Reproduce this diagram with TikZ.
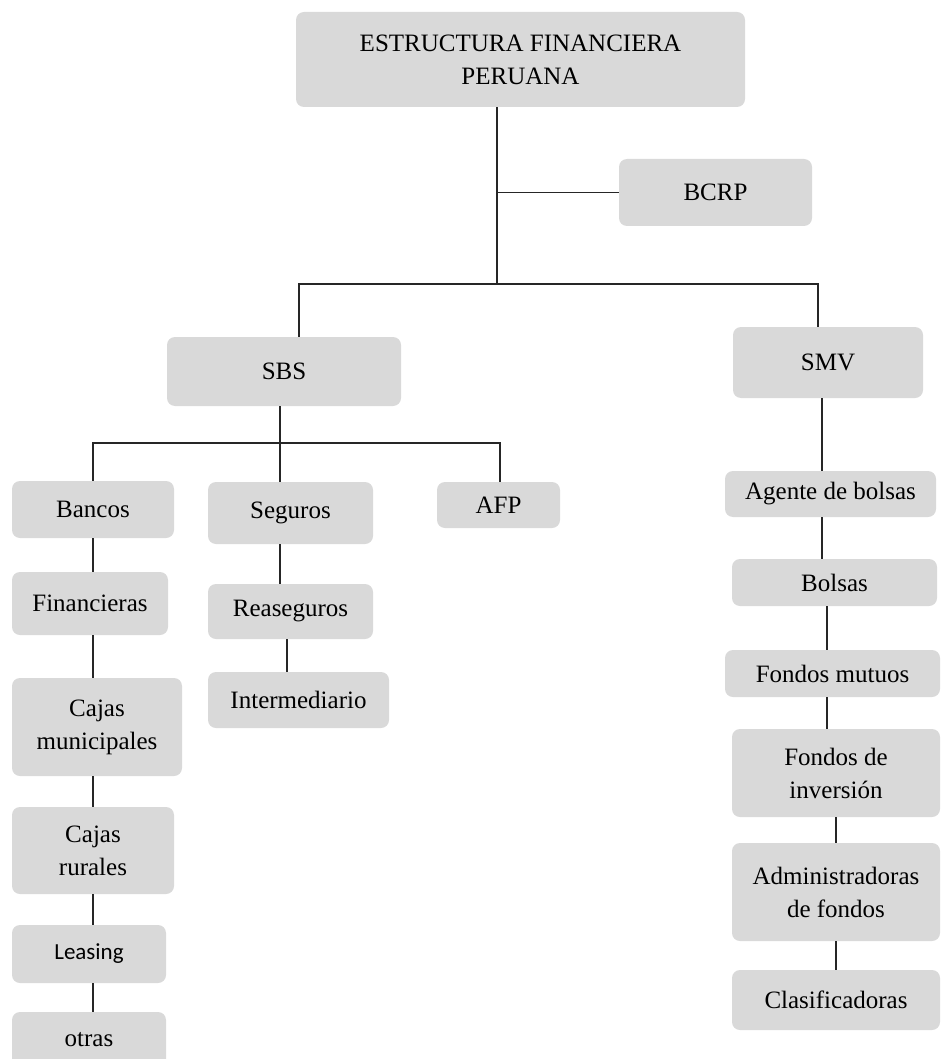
\documentclass[tikz,border=0pt]{standalone}
\usepackage{fontspec}
\setmainfont{Liberation Serif}
\newfontfamily\leasingfont{Carlito}
\definecolor{cajagris}{RGB}{217,217,217}
\tikzset{
  caja/.style={fill=cajagris, rounded corners=8pt, align=center, inner sep=0pt,
    font=\fontsize{25}{33}\selectfont},
  linea/.style={draw=black!85, line width=1.3pt}
}
\begin{document}
\begin{tikzpicture}[x=1pt,y=-1pt]
\useasboundingbox (0,0) rectangle (940,1059);
% cabecera
\node[caja,minimum width=449pt,minimum height=95pt] (efp) at (520.5,59.5) {ESTRUCTURA FINANCIERA\\PERUANA};
\node[caja,minimum width=193pt,minimum height=67pt] (bcrp) at (715.5,192.5) {BCRP};
\node[caja,minimum width=234pt,minimum height=69pt] (sbs) at (284,371.5) {SBS};
\node[caja,minimum width=190pt,minimum height=71pt] (smv) at (828,362.5) {SMV};
% SBS
\node[caja,minimum width=162pt,minimum height=57pt] (bancos) at (93,509.5) {Bancos};
\node[caja,minimum width=165pt,minimum height=62pt] (seguros) at (290.5,513) {Seguros};
\node[caja,minimum width=123pt,minimum height=46pt] (afp) at (498.5,505) {AFP};
\node[caja,minimum width=156pt,minimum height=63pt] (financieras) at (90,603.5) {Financieras};
\node[caja,minimum width=165pt,minimum height=55pt] (reaseguros) at (290.5,611.5) {Reaseguros};
\node[caja,minimum width=181pt,minimum height=56pt] (intermediario) at (298.5,700) {Intermediario};
\node[caja,minimum width=170pt,minimum height=98pt] (cajasm) at (97,727) {Cajas\\municipales};
\node[caja,minimum width=162pt,minimum height=87pt] (cajasr) at (93,850.5) {Cajas\\rurales};
\node[caja,minimum width=154pt,minimum height=58pt,font=\leasingfont\fontsize{23}{28}\selectfont] (leasing) at (89,954) {Leasing};
\node[caja,minimum width=154pt,minimum height=56pt] (otras) at (89,1040) {otras};
% SMV
\node[caja,minimum width=211pt,minimum height=46pt] (agente) at (830.5,494) {Agente de bolsas};
\node[caja,minimum width=205pt,minimum height=47pt] (bolsas) at (834.5,582.5) {Bolsas};
\node[caja,minimum width=215pt,minimum height=47pt] (fmutuos) at (832.5,673.5) {Fondos mutuos};
\node[caja,minimum width=208pt,minimum height=88pt] (finversion) at (836,773) {Fondos de\\inversión};
\node[caja,minimum width=208pt,minimum height=98pt] (adminf) at (836,892) {Administradoras\\de fondos};
\node[caja,minimum width=208pt,minimum height=60pt] (clasif) at (836,1000) {Clasificadoras};
% puntos de union
\coordinate (tronco) at (497,284);
\coordinate (busI) at (299,284);
\coordinate (busD) at (818,284);
\coordinate (sbsbus) at (280,443);
\coordinate (colA) at (93,443);
\coordinate (colF) at (500,443);
\coordinate (colR) at (287,0);
\coordinate (colV) at (822,0);
\coordinate (colM) at (827,0);
\coordinate (colI) at (836,0);
% conectores
\draw[linea] (efp.south -| tronco) -- (tronco);
\draw[linea] (bcrp.west -| tronco) -- (bcrp.west);
\draw[linea] (sbs.north -| busI) -- (busI) -- (busD) -- (smv.north -| busD);
\draw[linea] (sbs.south -| sbsbus) -- (sbsbus);
\draw[linea] (bancos.north -| colA) -- (colA) -- (colF) -- (afp.north -| colF);
\draw[linea] (seguros.north -| sbsbus) -- (sbsbus);
\draw[linea] (bancos.south -| colA) -- (financieras.north -| colA);
\draw[linea] (financieras.south -| colA) -- (cajasm.north -| colA);
\draw[linea] (cajasm.south -| colA) -- (cajasr.north -| colA);
\draw[linea] (cajasr.south -| colA) -- (leasing.north -| colA);
\draw[linea] (leasing.south -| colA) -- (otras.north -| colA);
\draw[linea] (seguros.south -| sbsbus) -- (reaseguros.north -| sbsbus);
\draw[linea] (reaseguros.south -| colR) -- (intermediario.north -| colR);
\draw[linea] (smv.south -| colV) -- (agente.north -| colV);
\draw[linea] (agente.south -| colV) -- (bolsas.north -| colV);
\draw[linea] (bolsas.south -| colM) -- (fmutuos.north -| colM);
\draw[linea] (fmutuos.south -| colM) -- (finversion.north -| colM);
\draw[linea] (finversion.south -| colI) -- (adminf.north -| colI);
\draw[linea] (adminf.south -| colI) -- (clasif.north -| colI);
\end{tikzpicture}
\end{document}
